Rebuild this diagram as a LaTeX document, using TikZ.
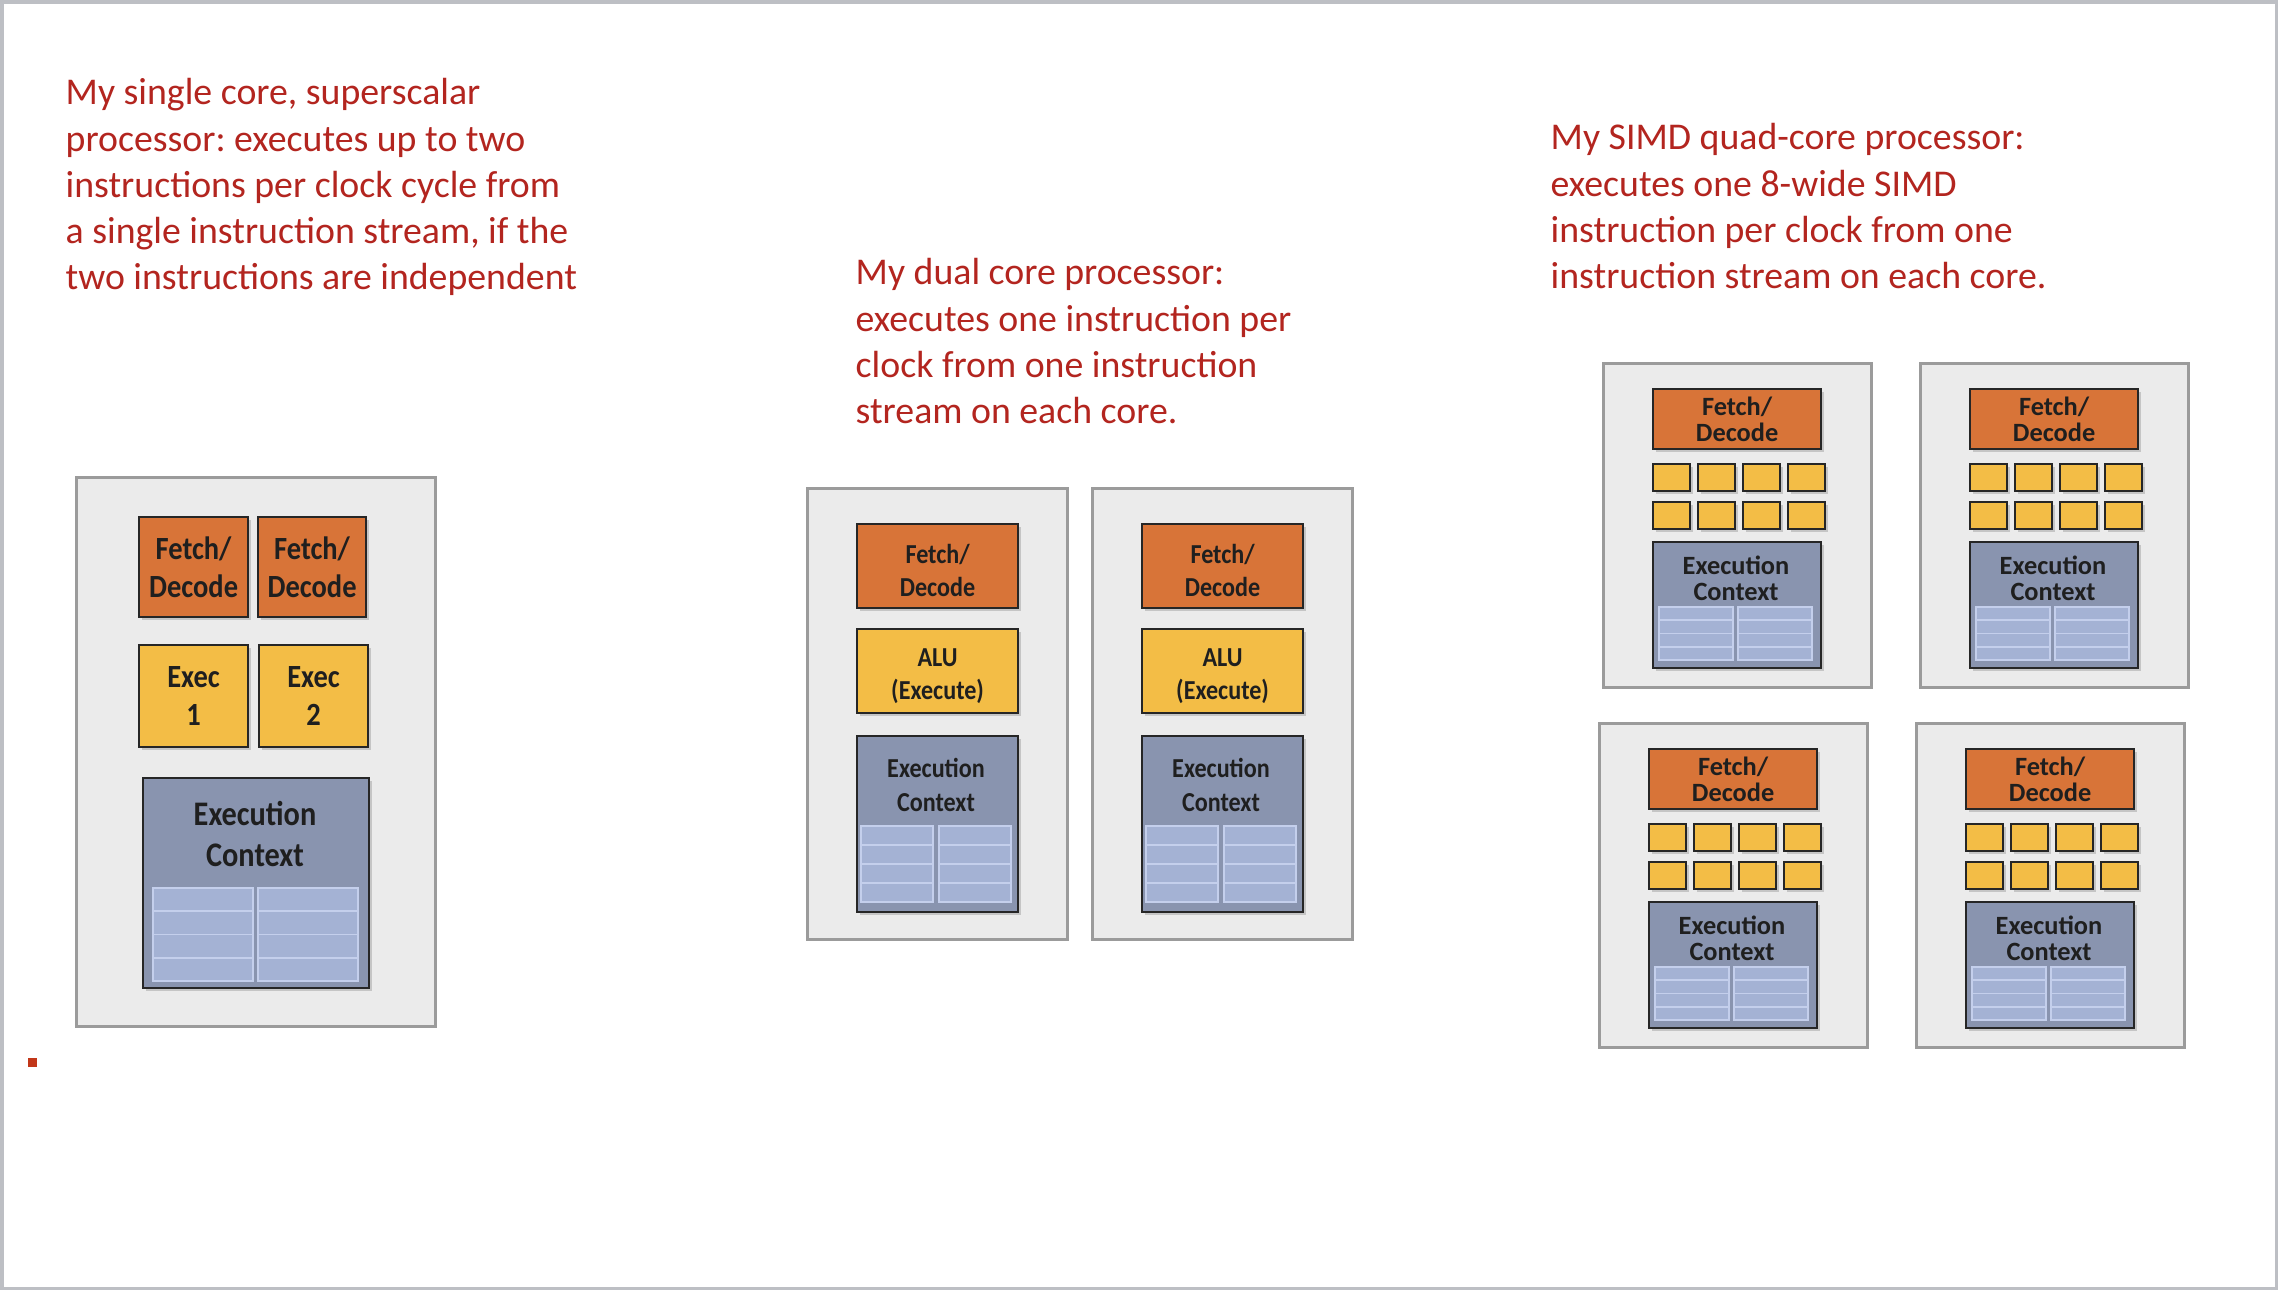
\documentclass[tikz,border=0pt]{standalone}
\usepackage{fontspec}
\setmainfont{Carlito}
\newfontfamily\boxfont{Carlito}[FakeStretch=0.88]
\usetikzlibrary{shadows}
\frenchspacing

\definecolor{noteRed}{RGB}{179,37,31}
\definecolor{coreGrey}{RGB}{235,235,235}
\definecolor{coreEdge}{RGB}{155,155,155}
\definecolor{fetchOrange}{RGB}{216,116,56}
\definecolor{aluYellow}{RGB}{243,189,70}
\definecolor{ctxSlate}{RGB}{137,148,175}
\definecolor{cellBlue}{RGB}{164,178,212}
\definecolor{cellEdge}{RGB}{196,207,236}
\definecolor{frameGrey}{RGB}{189,191,196}

\newcommand{\scfont}{\boxfont\bfseries\fontsize{9.2}{10.8}\selectfont}
\newcommand{\scctxfont}{\boxfont\bfseries\fontsize{9.8}{11.4}\selectfont}
\newcommand{\dcfont}{\boxfont\bfseries\fontsize{7.8}{9.5}\selectfont}
\newcommand{\qcfont}{\bfseries\fontsize{7.5}{7.3}\selectfont}

\tikzset{
  note/.style={anchor=north west, inner sep=0pt, align=left, text=noteRed,
    font=\fontsize{10.75}{13.1}\selectfont\frenchspacing},
  core/.style={draw=coreEdge, fill=coreGrey, line width=0.8pt, anchor=north west, inner sep=0pt},
  unit/.style={draw=black!85, line width=0.6pt, anchor=north west, inner sep=0pt,
    align=center, text=black!88,
    drop shadow={shadow xshift=0.8pt, shadow yshift=-0.8pt, opacity=0.35}},
  fetchbox/.style={unit, fill=fetchOrange},
  alubox/.style={unit, fill=aluYellow},
  ctxbox/.style={unit, fill=ctxSlate},
  ctxlabel/.style={inner sep=0pt, align=center, text=black!88},
  cell/.style={fill=cellBlue, draw=cellEdge, line width=0.5pt},
}

\begin{document}
\begin{tikzpicture}[x=0.01cm, y=-0.01cm]
  \useasboundingbox (0,0) rectangle (2278,1290);
  \fill[white] (0,0) rectangle (2278,1290);
  \draw[frameGrey, line width=1pt] (1.75,1.75) rectangle (2276.25,1288.25);

  % captions
  \node[note] (singlenote) at (65,78) {My single core, superscalar\\processor: executes up to two\\instructions per clock cycle from\\a single instruction stream, if the\\two instructions are independent};
  \node[note] (dualnote) at (855,258) {My dual core processor:\\executes one instruction per\\clock from one instruction\\stream on each core.};
  \node[note] (quadnote) at (1550,123) {My SIMD quad-core processor:\\executes one 8-wide SIMD\\instruction per clock from one\\instruction stream on each core.};

  % single core, superscalar
  \node[core, minimum width=3.59cm, minimum height=5.49cm] (sc) at (75,476) {};
  \node[fetchbox, minimum width=1.09cm, minimum height=1.00cm, font=\scfont] (sc-fd1) at (138,516) {Fetch/\\Decode};
  \node[fetchbox, minimum width=1.08cm, minimum height=1.00cm, font=\scfont] (sc-fd2) at (257,516) {Fetch/\\Decode};
  \node[alubox, minimum width=1.09cm, minimum height=1.02cm, font=\scfont] (sc-ex1) at (138,644) {Exec\\1};
  \node[alubox, minimum width=1.09cm, minimum height=1.02cm, font=\scfont] (sc-ex2) at (258,644) {Exec\\2};
  \node[ctxbox, minimum width=2.26cm, minimum height=2.10cm] (sc-ctx) at (142,777) {};
  \node[ctxlabel, font=\scctxfont] (sc-ctxtext) at (255,834) {Execution\\Context};
  \foreach \c in {0,1}
    \foreach \r in {0,...,3}
      \draw[cell] (153+105*\c,888+23.25*\r) rectangle (253+105*\c,911.25+23.25*\r);

  % dual core
  \foreach \k/\dx in {1/0, 2/285} {
    \node[core, minimum width=2.60cm, minimum height=4.51cm] (dc\k) at (806+\dx,487) {};
    \node[fetchbox, minimum width=1.61cm, minimum height=0.84cm, font=\dcfont, text height=0.61cm] (dc\k-fd) at (856+\dx,523) {Fetch/\\Decode};
    \node[alubox, minimum width=1.61cm, minimum height=0.84cm, font=\dcfont, text height=0.61cm] (dc\k-alu) at (856+\dx,628) {ALU\\(Execute)};
    \node[ctxbox, minimum width=1.61cm, minimum height=1.76cm] (dc\k-ctx) at (856+\dx,735) {};
    \node[ctxlabel, font=\dcfont] (dc\k-ctxtext) at (936+\dx,785) {Execution\\Context};
    \foreach \c in {0,1}
      \foreach \r in {0,...,3}
        \draw[cell] (861+\dx+78*\c,826+19*\r) rectangle (933+\dx+78*\c,845+19*\r);
  }

  % SIMD quad core
  \foreach \k/\qx/\qy in {1/1602/362, 2/1919/362, 3/1598/722, 4/1915/722} {
    \node[core, minimum width=2.68cm, minimum height=3.24cm] (qc\k) at (\qx,\qy) {};
    \node[fetchbox, minimum width=1.68cm, minimum height=0.60cm, font=\qcfont] (qc\k-fd) at (\qx+50,\qy+26) {Fetch/\\Decode};
    \foreach \r/\ry in {0/101, 1/139}
      \foreach \c in {0,...,3}
        \node[alubox, minimum width=0.37cm, minimum height=0.27cm] (qc\k-alu\r\c) at (\qx+50+45*\c,\qy+\ry) {};
    \node[ctxbox, minimum width=1.68cm, minimum height=1.26cm] (qc\k-ctx) at (\qx+50,\qy+179) {};
    \node[ctxlabel, font=\qcfont] (qc\k-ctxtext) at (\qx+134,\qy+216) {Execution\\Context};
    \foreach \c in {0,1}
      \foreach \r in {0,...,3}
        \draw[cell] (\qx+57+79*\c,\qy+245+13.25*\r) rectangle (\qx+131+79*\c,\qy+258.25+13.25*\r);
  }

  % stray mark
  \fill[noteRed!80!orange] (28,1058) rectangle (37,1067);
\end{tikzpicture}
\end{document}
